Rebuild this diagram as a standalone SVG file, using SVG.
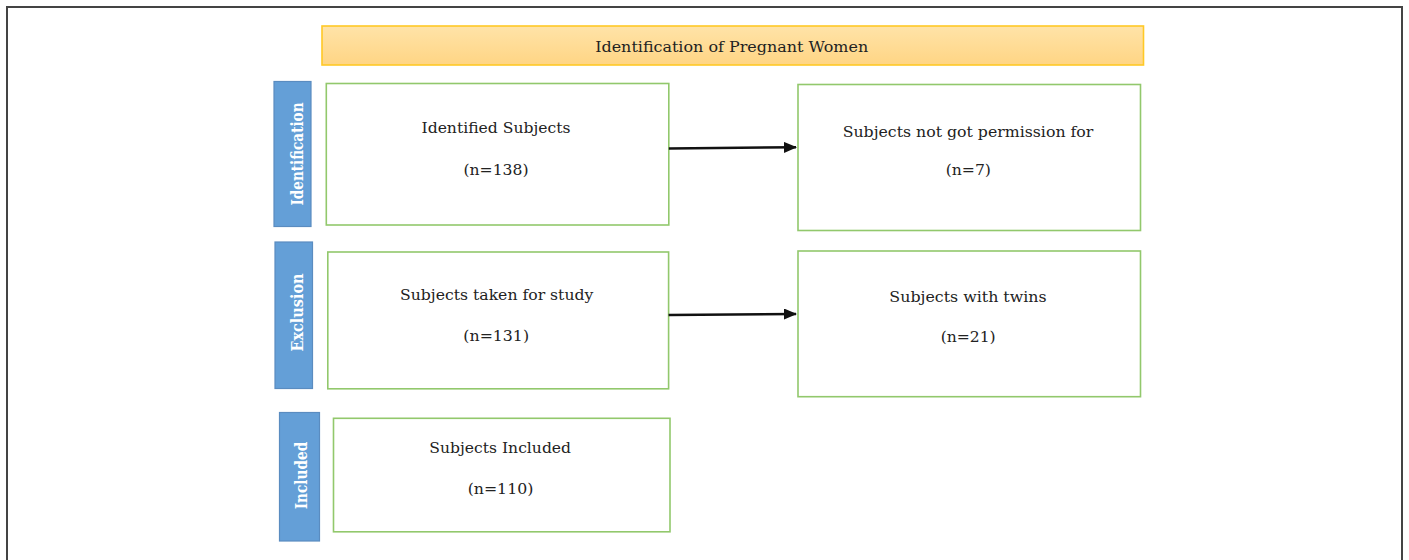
<svg xmlns="http://www.w3.org/2000/svg" width="1409" height="560" viewBox="0 0 1409 560">
<defs>
<linearGradient id="gTitle" x1="0" y1="0" x2="0" y2="1">
<stop offset="0" stop-color="#FFE3A8"/>
<stop offset="1" stop-color="#FFD584"/>
</linearGradient>
<marker id="arr" viewBox="0 0 13 11" refX="12" refY="5.5" markerWidth="13" markerHeight="11" markerUnits="userSpaceOnUse" orient="auto">
<path d="M0,0 L13,5.5 L0,11 Z" fill="#111"/>
</marker>
</defs>
<style>
.frame{fill:#fff;stroke:#444;stroke-width:2}
.box{fill:#fff;stroke:#92C86C;stroke-width:1.6}
.side{fill:#649FD7;stroke:#5A8CC0;stroke-width:1.2}
.txt{font-family:"DejaVu Serif","Liberation Serif",serif;font-size:15px;fill:#222;text-anchor:middle}
.vtxt{font-family:"DejaVu Serif","Liberation Serif",serif;font-size:17px;font-weight:bold;fill:#fff;text-anchor:middle}
.conn{stroke:#111;stroke-width:2.5;fill:none}
</style>
<rect class="frame" x="7" y="7" width="1395" height="570"/>
<g id="title">
<rect x="322" y="26" width="821.5" height="39" fill="url(#gTitle)" stroke="#FFC926" stroke-width="1.6"/>
<text class="txt" x="731.7" y="51.5" textLength="273" lengthAdjust="spacingAndGlyphs">Identification of Pregnant Women</text>
</g>
<g id="label-identification">
<rect class="side" x="274" y="81.5" width="37" height="145"/>
<text class="vtxt" transform="translate(303.3,154) rotate(-90)" textLength="103" lengthAdjust="spacingAndGlyphs">Identification</text>
</g>
<g id="label-exclusion">
<rect class="side" x="275" y="242" width="37.5" height="146.5"/>
<text class="vtxt" transform="translate(302.9,312.5) rotate(-90)" textLength="78" lengthAdjust="spacingAndGlyphs">Exclusion</text>
</g>
<g id="label-included">
<rect class="side" x="279.5" y="412.5" width="40" height="128.5"/>
<text class="vtxt" transform="translate(306.7,475.5) rotate(-90)" textLength="67.6" lengthAdjust="spacingAndGlyphs">Included</text>
</g>
<g id="identified">
<rect class="box" x="326.3" y="83.5" width="342.5" height="141.5"/>
<text class="txt" x="496" y="133.3" textLength="149" lengthAdjust="spacingAndGlyphs">Identified Subjects</text>
<text class="txt" x="496" y="174.5" textLength="65" lengthAdjust="spacingAndGlyphs">(n=138)</text>
</g>
<g id="no-permission">
<rect class="box" x="798" y="84.5" width="342.5" height="146"/>
<text class="txt" x="968" y="136.5" textLength="250.7" lengthAdjust="spacingAndGlyphs">Subjects not got permission for</text>
<text class="txt" x="968.3" y="175" textLength="45.3" lengthAdjust="spacingAndGlyphs">(n=7)</text>
</g>
<g id="taken">
<rect class="box" x="327.8" y="252" width="340.8" height="136.8"/>
<text class="txt" x="496.7" y="300" textLength="193.3" lengthAdjust="spacingAndGlyphs">Subjects taken for study</text>
<text class="txt" x="496.2" y="341" textLength="65.7" lengthAdjust="spacingAndGlyphs">(n=131)</text>
</g>
<g id="twins">
<rect class="box" x="798" y="251" width="342.5" height="145.7"/>
<text class="txt" x="968" y="302" textLength="157.3" lengthAdjust="spacingAndGlyphs">Subjects with twins</text>
<text class="txt" x="968.2" y="341.5" textLength="55" lengthAdjust="spacingAndGlyphs">(n=21)</text>
</g>
<g id="included">
<rect class="box" x="333.5" y="418.3" width="336.5" height="113.5"/>
<text class="txt" x="500.2" y="452.5" textLength="141.7" lengthAdjust="spacingAndGlyphs">Subjects Included</text>
<text class="txt" x="500.5" y="494" textLength="65.7" lengthAdjust="spacingAndGlyphs">(n=110)</text>
</g>
<g id="connectors">
<line class="conn" x1="668.8" y1="148.5" x2="796" y2="147.3" marker-end="url(#arr)"/>
<line class="conn" x1="668.6" y1="315" x2="796" y2="314" marker-end="url(#arr)"/>
</g>
</svg>
